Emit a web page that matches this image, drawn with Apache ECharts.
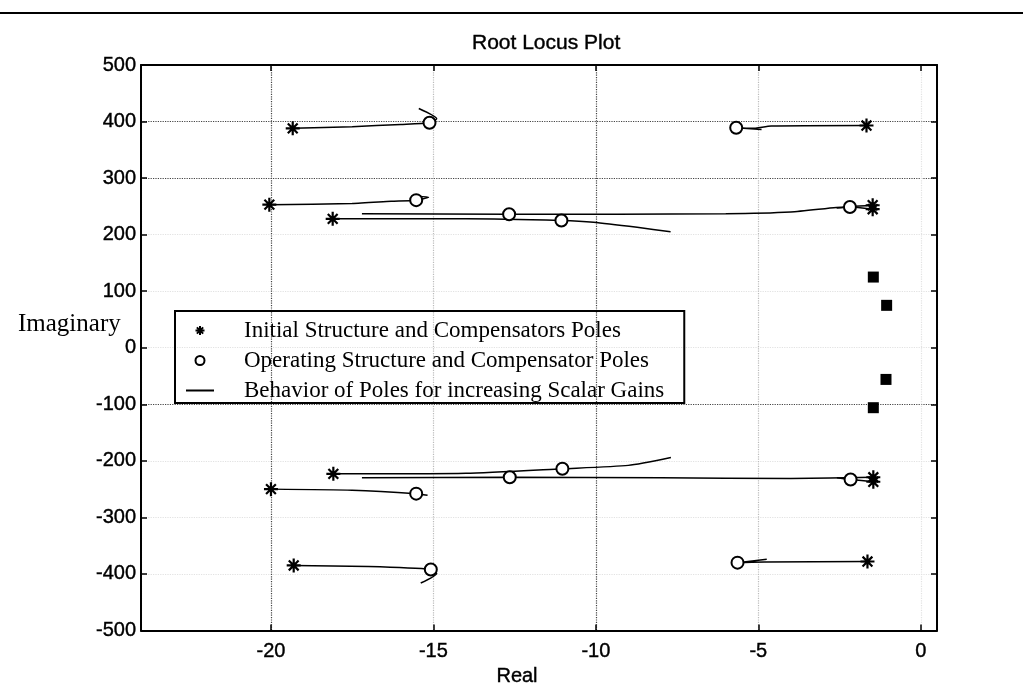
<!DOCTYPE html>
<html>
<head>
<meta charset="utf-8">
<title>Root Locus Plot</title>
<script src="https://cdn.jsdelivr.net/npm/echarts@6/dist/echarts.min.js"></script>
<style>
  html, body { margin: 0; padding: 0; background: #fff; }
  #chart { width: 1023px; height: 692px; }
</style>
</head>
<body>
<div id="chart"></div>
<script>
// legend names
var STAR_NAME = 'Initial Structure and Compensators Poles';
var CIRCLE_NAME = 'Operating Structure and Compensator Poles';
var LINE_NAME = 'Behavior of Poles for increasing Scalar Gains';

// initial poles (*)  [real, imaginary]
var initialPoles = [
  [-19.33, 388], [-1.67, 393], [-20.05, 253], [-18.1, 228], [-1.48, 252], [-1.48, 245],
  [-19.3, -385], [-1.64, -378], [-20.0, -250], [-18.08, -223], [-1.46, -229], [-1.46, -237]
];
// operating poles (o)
var operatingPoles = [
  [-15.12, 398], [-5.68, 389], [-15.53, 261], [-12.67, 236], [-11.06, 225], [-2.18, 249],
  [-15.08, -392], [-5.64, -380], [-15.53, -258], [-12.65, -229], [-11.03, -214], [-2.16, -233]
];
// poles that hardly move (drawn as filled blobs)
var fixedPoles = [[-1.46, 125], [-1.05, 75], [-1.07, -56], [-1.46, -106]];

// pole paths for increasing scalar gains
var locus1 = [[-19.33, 388], [-17.5, 391], [-16.0, 395], [-15.12, 398], [-14.9, 405], [-15.45, 423]];
var locus2 = [[-1.67, 393], [-4.6, 392], [-5.2, 388], [-5.68, 389], [-4.9, 386]];
var locus3 = [[-20.05, 253], [-17.5, 255], [-16.3, 259], [-15.53, 261], [-15.15, 266], [-15.5, 268]];
var locus4 = [[-18.1, 228], [-14.0, 228], [-11.06, 225], [-10.07, 222], [-8.73, 213], [-7.7, 205]];
var locus5 = [[-1.48, 252], [-2.6, 248], [-4.0, 240], [-6.0, 237], [-12.67, 236], [-17.2, 237]];
var locus6 = [[-1.48, 245], [-2.18, 249], [-2.59, 247]];
var locus7 = [[-19.3, -385], [-17.0, -387], [-15.08, -392], [-14.9, -399], [-15.39, -416]];
var locus8 = [[-1.64, -378], [-4.8, -379], [-5.64, -380], [-4.74, -374]];
var locus9 = [[-20.0, -250], [-17.5, -252], [-15.53, -258], [-15.18, -261]];
var locus10 = [[-18.08, -223], [-14.0, -222], [-11.03, -214], [-9.0, -208], [-7.69, -194]];
var locus11 = [[-1.46, -229], [-4.0, -231], [-8.0, -230], [-12.65, -229], [-17.2, -230]];
var locus12 = [[-1.46, -237], [-2.16, -233], [-2.58, -230]];

var loci = [locus1, locus2, locus3, locus4, locus5, locus6, locus7, locus8, locus9, locus10, locus11, locus12];

var asterisk = 'path://M0,-10L0,10M-10,0L10,0M-7,-7L7,7M-7,7L7,-7';
var dash = 'path://M0,0L28,0L28,2L0,2Z';
var sans = 'Liberation Sans';
var tickFont = { fontFamily: sans, fontSize: 20, color: '#000', textBorderColor: '#000', textBorderWidth: 0.4 };

// grid lines survived unevenly in the scan: some dark, most faint
var faint = '#e2e2e2', mid = '#bbb', dark = '#444';
var xGridColors = [faint, dark, mid, dark, mid, faint, faint];
var yGridColors = [faint, faint, faint, faint, dark, faint, faint, faint, dark, dark, faint];

var chart = echarts.init(document.getElementById('chart'));

var series = loci.map(function (d) {
  return {
    type: 'line', name: LINE_NAME, data: d, symbol: 'none', smooth: 0.2,
    itemStyle: { color: '#000' },
    lineStyle: { color: '#000', width: 1.5 }, z: 2
  };
});
series.push({
  type: 'scatter', name: STAR_NAME, data: initialPoles, symbol: asterisk, symbolSize: 14,
  itemStyle: { color: 'rgba(0,0,0,0)', borderColor: '#000', borderWidth: 2.2, opacity: 1 }, z: 3
});
series.push({
  type: 'scatter', name: CIRCLE_NAME, data: operatingPoles, symbol: 'emptyCircle', symbolSize: 12,
  itemStyle: { color: '#000', borderWidth: 1.6, opacity: 1 }, z: 4
});
series.push({
  type: 'scatter', name: 'fixed', data: fixedPoles, symbol: 'rect', symbolSize: 11,
  itemStyle: { color: '#000', opacity: 1 }, z: 4
});

function frameAxis() {
  return { lineStyle: { color: '#000', width: 2 }, onZero: false };
}

chart.setOption({
  animation: false,
  backgroundColor: '#fff',
  title: {
    text: 'Root Locus Plot', left: 467, top: 28,
    textStyle: { fontFamily: sans, fontSize: 21, fontWeight: 'normal', color: '#000', textBorderColor: '#000', textBorderWidth: 0.4 }
  },
  grid: { left: 141, right: 86, top: 65, bottom: 53 },
  legend: {
    data: [
      { name: STAR_NAME },
      { name: CIRCLE_NAME },
      { name: LINE_NAME, icon: dash, itemStyle: { color: '#000' } }
    ],
    orient: 'vertical', left: 175, top: 311,
    padding: [8, 20, 1, 11], itemGap: 7, itemWidth: 28, itemHeight: 9,
    borderColor: '#000', borderWidth: 2, backgroundColor: 'rgba(0,0,0,0)',
    textStyle: { fontFamily: 'Liberation Serif', fontSize: 23, color: '#000', padding: [0, 0, 0, 25] }
  },
  graphic: [
    { type: 'line', shape: { x1: 0, y1: 13, x2: 1023, y2: 13 }, style: { stroke: '#000', lineWidth: 2 } },
    {
      type: 'text', left: 18, top: 312, z: 10,
      style: { text: 'Imaginary', fontFamily: 'Liberation Serif', fontSize: 25, fill: '#000' }
    }
  ],
  xAxis: [{
    type: 'value', position: 'bottom', min: -24, max: 0.5, splitNumber: 5,
    name: 'Real', nameLocation: 'middle', nameGap: 35,
    nameTextStyle: Object.assign({}, tickFont, { padding: [0, 44, 0, 0] }),
    axisLine: frameAxis(),
    axisTick: { inside: true, length: 6, lineStyle: { color: '#000', width: 1.5 } },
    axisLabel: Object.assign({ margin: 11, showMinLabel: false, showMaxLabel: false }, tickFont),
    splitLine: { show: true, lineStyle: { color: xGridColors, type: 'dotted', width: 1.2 } }
  }, {
    type: 'value', position: 'top', min: -24, max: 0.5, splitNumber: 5,
    axisLine: frameAxis(),
    axisTick: { inside: true, length: 6, lineStyle: { color: '#000', width: 1.5 } },
    axisLabel: { show: false }, splitLine: { show: false }
  }],
  yAxis: [{
    type: 'value', position: 'left', min: -500, max: 500, interval: 100,
    axisLine: frameAxis(),
    axisTick: { inside: true, length: 6, lineStyle: { color: '#000', width: 1.5 } },
    axisLabel: Object.assign({ margin: 5 }, tickFont),
    splitLine: { show: true, lineStyle: { color: yGridColors, type: 'dotted', width: 1.2 } }
  }, {
    type: 'value', position: 'right', min: -500, max: 500, interval: 100,
    axisLine: frameAxis(),
    axisTick: { inside: true, length: 6, lineStyle: { color: '#000', width: 1.5 } },
    axisLabel: { show: false }, splitLine: { show: false }
  }],
  series: series
});
</script>
</body>
</html>
